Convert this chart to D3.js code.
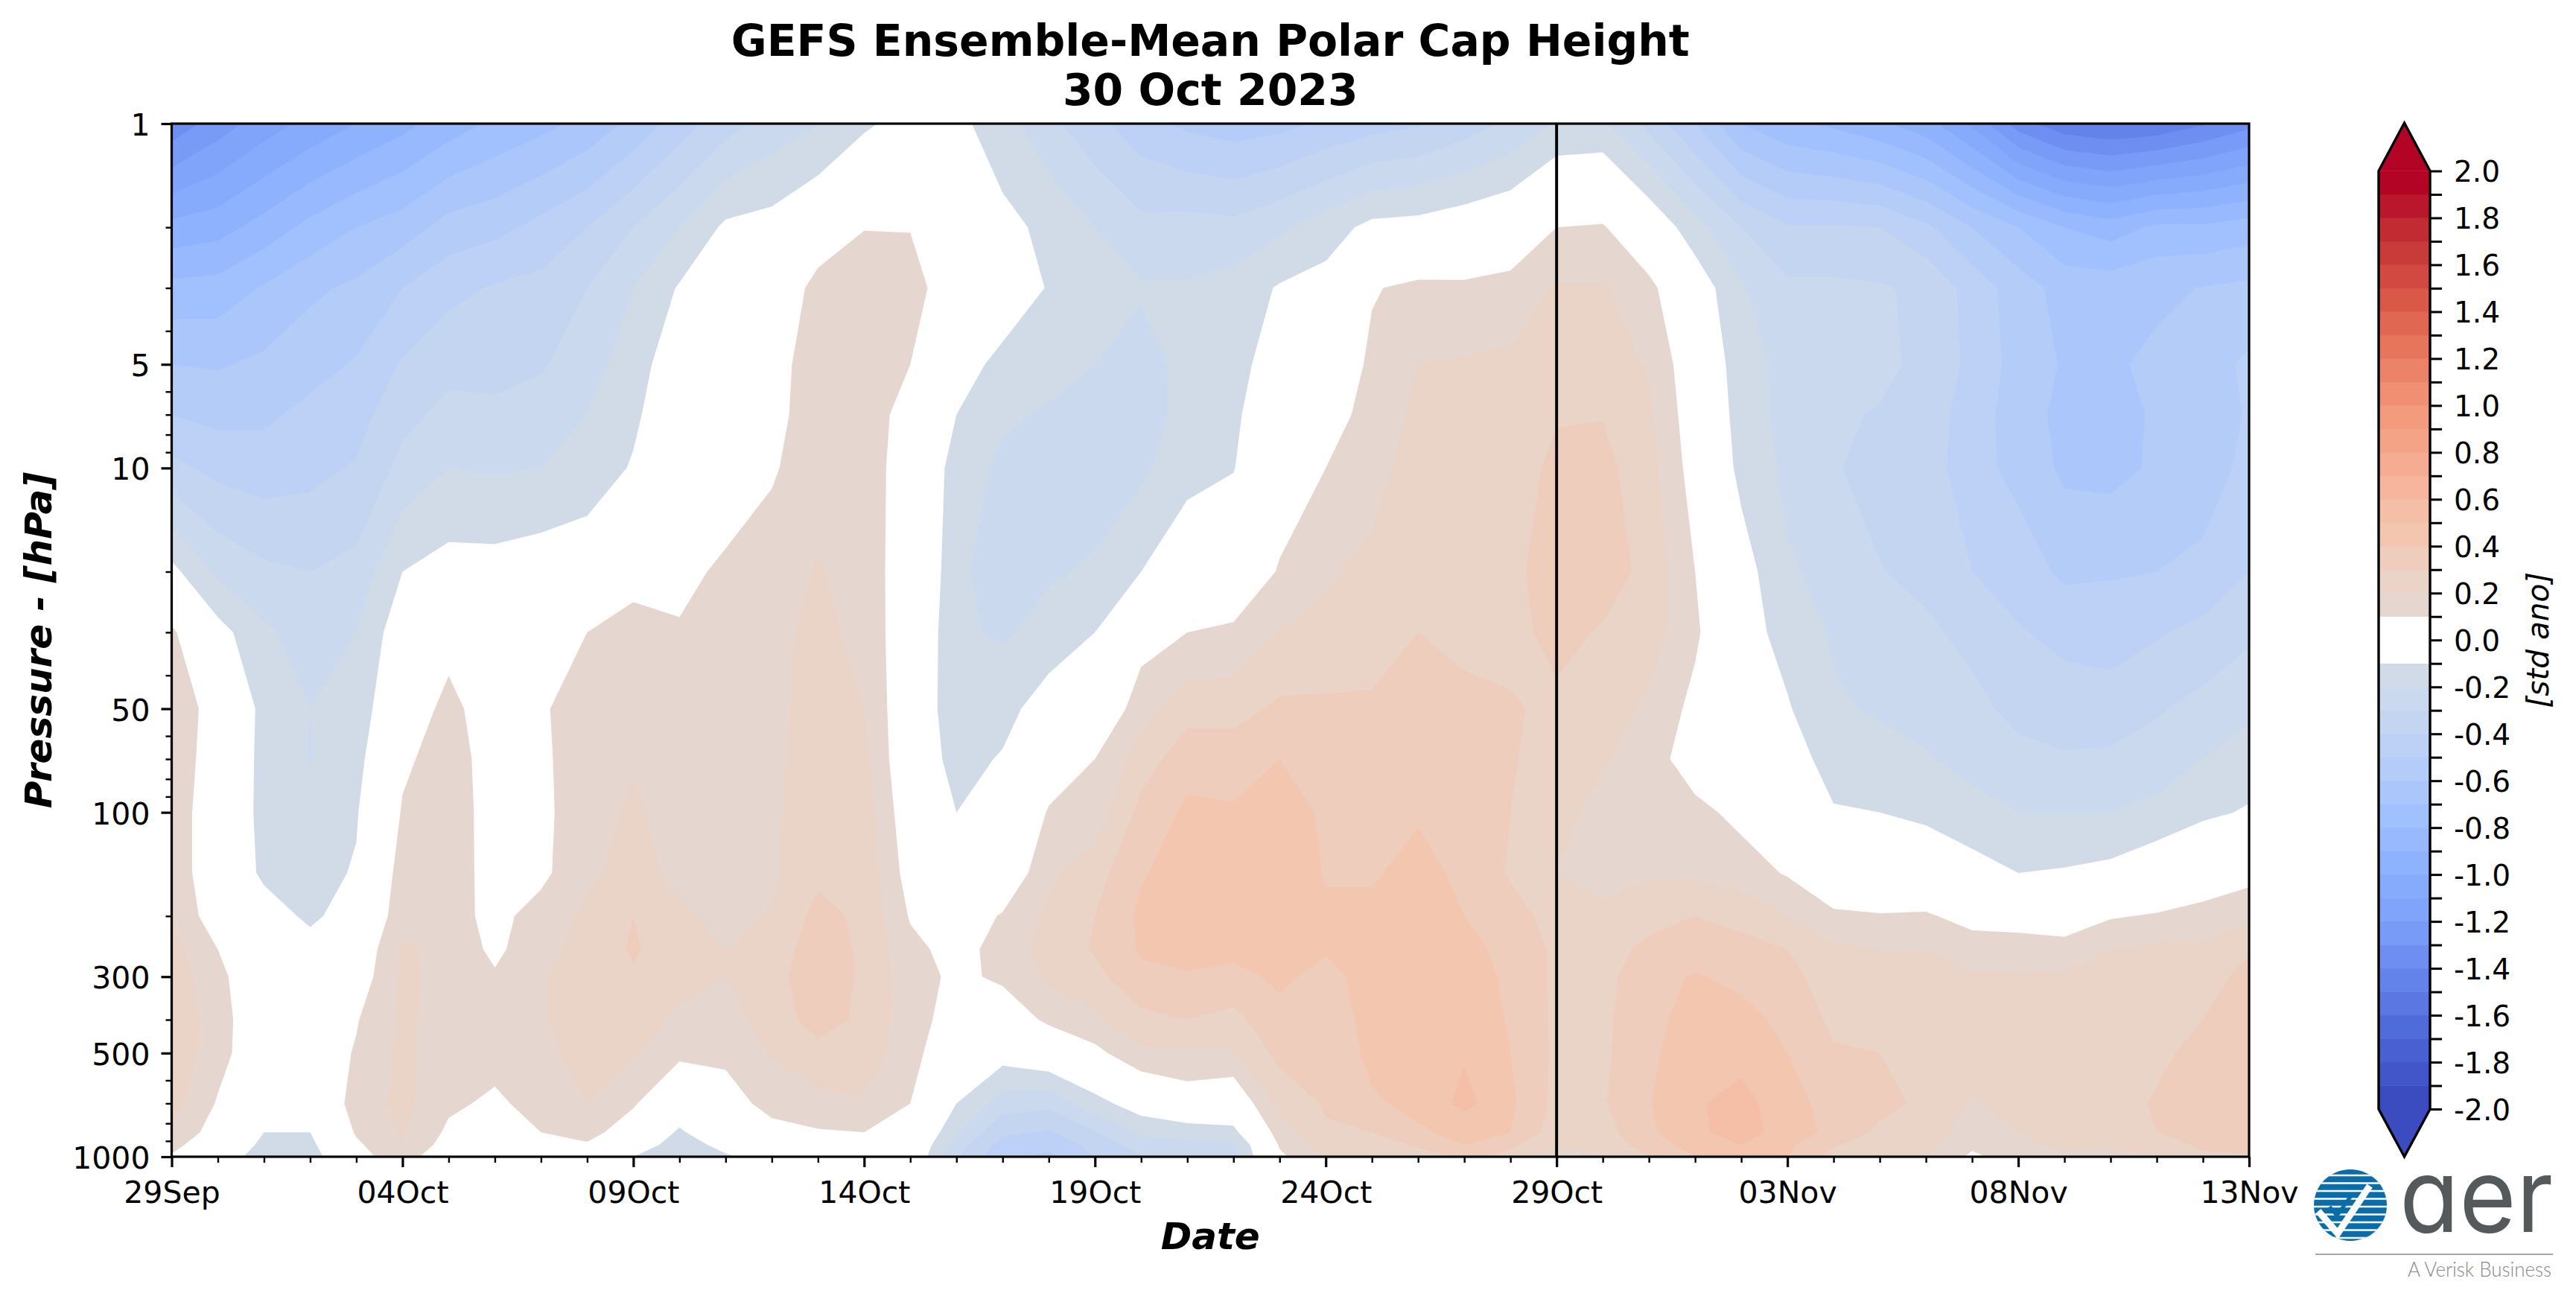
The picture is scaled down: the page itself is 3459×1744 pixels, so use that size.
<!DOCTYPE html>
<html>
<head>
<meta charset="utf-8">
<title>GEFS Ensemble-Mean Polar Cap Height</title>
<script src="https://cdn.jsdelivr.net/npm/d3@7"></script>
<style>
html,body{margin:0;padding:0;background:#fff;}
svg{display:block;font-family:"DejaVu Sans",sans-serif;}
</style>
</head>
<body>
<svg id="chart" width="3459" height="1744" viewBox="0 0 3459 1744"></svg>
<script>
// ---------- data ----------
const titleLines = ["GEFS Ensemble-Mean Polar Cap Height", "30 Oct 2023"];
const pressureLevels = [1,2,3,5,7,10,20,30,50,70,100,150,200,250,300,400,500,700,850,925,1000];
const pressureTickValues = [1,5,10,50,100,300,500,1000];
const pressureMinorTicks = [2,3,4,6,7,8,9,20,30,40,60,70,80,90,200,400,600,700,800,900];
const dateTickLabels = ["29Sep","04Oct","09Oct","14Oct","19Oct","24Oct","29Oct","03Nov","08Nov","13Nov"];
const forecastStartDay = 30;
// one list per day (29 Sep .. 13 Nov), each from 1 hPa down to 1000 hPa, std anomaly
const anomalyByDay = [
[-1.37,-.97,-.77,-.60,-.50,-.37,-.07,.12,.20,.20,.18,.18,.20,.24,.26,.28,.28,.24,.18,.13,.09],
[-1.25,-.94,-.76,-.61,-.53,-.43,-.22,-.06,.03,.01,0,0,.03,.10,.13,.15,.14,.09,.05,.02,0],
[-1.15,-.86,-.69,-.58,-.52,-.45,-.28,-.18,-.13,-.13,-.13,-.12,-.05,-.02,0,0,.01,-.03,-.10,-.13,-.18],
[-1.07,-.77,-.62,-.54,-.47,-.43,-.30,-.25,-.20,-.205,-.18,-.14,-.12,-.06,-.03,0,.02,0,-.10,-.13,-.17],
[-1.00,-.70,-.58,-.49,-.44,-.39,-.27,-.20,-.17,-.14,-.11,-.09,-.05,0,.03,.092,.11,.135,.113,.08,.08],
[-.93,-.65,-.50,-.39,-.33,-.27,-.10,-.03,.03,.08,.11,.15,.17,.22,.22,.22,.22,.23,.21,.20,.13],
[-.85,-.56,-.43,-.33,-.27,-.20,-.06,.06,.13,.15,.16,.15,.14,.16,.17,.16,.16,.12,.08,.05,.05],
[-.78,-.53,-.39,-.33,-.28,-.21,-.06,-.03,.04,.05,.05,.06,.07,.08,.11,.15,.14,.08,.04,.01,0],
[-.73,-.47,-.37,-.31,-.26,-.20,-.04,.01,.09,.086,.079,.075,.14,.16,.19,.19,.18,.14,.10,.06,.03],
[-.67,-.40,-.30,-.25,-.20,-.16,-.03,.10,.14,.14,.15,.18,.22,.25,.26,.25,.23,.20,.13,.09,.07],
[-.57,-.30,-.20,-.14,-.12,-.09,.06,.14,.17,.19,.22,.24,.30,.31,.29,.27,.21,.11,.05,0,-.10],
[-.45,-.20,-.09,-.04,-.01,.02,.07,.11,.13,.14,.15,.17,.22,.25,.26,.17,.12,0,-.12,-.18,-.21],
[-.34,-.08,-.05,-.02,0,.03,.12,.16,.15,.17,.17,.17,.17,.20,.20,.16,.12,.06,.02,-.05,-.12],
[-.26,-.06,-.03,.065,.07,.09,.14,.16,.16,.17,.18,.18,.21,.24,.26,.25,.21,.13,.07,.03,-.03],
[-.20,0,.15,.145,.15,.15,.21,.24,.26,.27,.27,.28,.33,.36,.37,.34,.27,.17,.09,.06,.03],
[-.12,.097,.15,.15,.15,.15,.15,.16,.20,.23,.25,.27,.28,.28,.28,.28,.27,.19,.10,.05,.02],
[-.05,.097,.13,.10,.06,.045,.04,.03,0,-.01,.02,.05,.09,.13,.15,.14,.12,.10,.06,.03,.01],
[-.07,.05,.05,-.06,-.10,-.15,-.17,-.185,-.17,-.14,-.10,-.05,.03,.06,.075,.057,.05,-.10,-.19,-.25,-.29],
[-.16,-.07,-.04,-.125,-.185,-.22,-.27,-.212,-.14,-.09,-.05,0,.11,.14,.12,.03,-.05,-.25,-.38,-.44,-.48],
[-.27,-.125,-.106,-.17,-.21,-.23,-.21,-.17,-.04,.03,.11,.18,.22,.24,.22,.12,0,-.27,-.41,-.47,-.52],
[-.37,-.20,-.16,-.20,-.23,-.24,-.19,-.10,-.02,.10,.14,.26,.30,.31,.27,.18,.07,-.14,-.31,-.37,-.39],
[-.46,-.27,-.19,-.24,-.25,-.22,-.10,.05,.16,.25,.33,.39,.42,.41,.38,.27,.18,-.04,-.18,-.25,-.31],
[-.52,-.26,-.19,-.17,-.16,-.14,-.01,.10,.26,.36,.42,.45,.47,.44,.39,.30,.19,.03,-.16,-.23,-.27],
[-.55,-.27,-.16,-.14,-.12,-.105,0,.12,.26,.36,.41,.44,.46,.43,.37,.27,.19,0,-.13,-.22,-.24],
[-.53,-.22,-.09,-.04,-.01,.03,.11,.20,.32,.40,.43,.46,.47,.46,.42,.37,.33,.23,.15,.11,.08],
[-.48,-.15,-.06,.01,.05,.10,.19,.22,.32,.37,.39,.395,.41,.41,.37,.35,.34,.31,.29,.25,.20],
[-.44,-.07,.092,.12,.14,.17,.22,.27,.31,.34,.37,.39,.42,.44,.44,.43,.42,.39,.30,.26,.21],
[-.41,-.06,.125,.20,.225,.24,.27,.30,.35,.38,.39,.43,.45,.46,.46,.46,.45,.42,.39,.31,.25],
[-.35,-.03,.12,.21,.22,.23,.25,.28,.32,.35,.37,.38,.40,.43,.45,.47,.49,.53,.42,.40,.33],
[-.28,0,.14,.22,.235,.24,.26,.27,.31,.31,.30,.29,.34,.37,.38,.39,.40,.42,.40,.32,.27],
[-.19,.10,.21,.26,.29,.33,.38,.33,.28,.25,.23,.20,.26,.28,.28,.28,.28,.27,.25,.21,.17],
[-.18,.11,.21,.26,.296,.33,.35,.29,.25,.21,.17,.17,.22,.25,.27,.28,.28,.29,.26,.23,.19],
[-.33,-.01,.13,.19,.22,.24,.27,.25,.18,.15,.15,.19,.26,.33,.36,.37,.38,.395,.38,.35,.30],
[-.50,-.16,-.03,.02,.03,.05,.10,.12,.07,.04,.13,.18,.30,.34,.41,.44,.46,.49,.48,.44,.40],
[-.70,-.30,-.19,-.16,-.145,-.13,-.05,-.05,-.03,0,.07,.15,.27,.33,.37,.44,.47,.53,.54,.50,.45],
[-.78,-.39,-.28,-.228,-.235,-.22,-.19,-.14,-.09,-.04,.03,.09,.20,.30,.33,.37,.40,.45,.46,.42,.40],
[-.82,-.39,-.28,-.25,-.28,-.292,-.225,-.21,-.19,-.15,-.09,0,.12,.22,.25,.28,.31,.35,.37,.31,.27],
[-.88,-.40,-.29,-.263,-.31,-.335,-.295,-.25,-.21,-.17,-.10,-.04,.11,.20,.23,.27,.30,.33,.28,.24,.20],
[-.96,-.48,-.32,-.339,-.345,-.347,-.33,-.28,-.24,-.19,-.13,.01,.11,.20,.23,.26,.27,.28,.26,.23,.20],
[-1.12,-.60,-.44,-.42,-.451,-.465,-.40,-.33,-.27,-.24,-.16,-.06,.07,.14,.21,.25,.26,.19,.15,.12,.08],
[-1.35,-.70,-.55,-.543,-.549,-.529,-.45,-.39,-.33,-.27,-.20,-.10,.06,.14,.22,.26,.26,.25,.20,.18,.15],
[-1.47,-.80,-.64,-.61,-.63,-.62,-.52,-.43,-.35,-.29,-.20,-.09,.05,.13,.22,.25,.26,.26,.23,.22,.17],
[-1.50,-.85,-.64,-.61,-.63,-.63,-.51,-.44,-.36,-.28,-.20,-.07,.09,.20,.22,.24,.25,.26,.23,.21,.18],
[-1.48,-.78,-.615,-.585,-.59,-.585,-.50,-.41,-.31,-.26,-.17,-.02,.11,.22,.24,.26,.28,.31,.30,.27,.20],
[-1.41,-.78,-.597,-.545,-.555,-.535,-.483,-.37,-.27,-.20,-.12,.02,.14,.22,.26,.30,.33,.36,.33,.31,.29],
[-1.33,-.75,-.576,-.48,-.49,-.48,-.40,-.32,-.22,-.15,-.09,.06,.18,.29,.33,.35,.37,.38,.37,.34,.29]
];
// contour levels and the coolwarm colour stops of the colour bar
const contourLevels = d3.range(-20, 21).map(v => v / 10);
const whiteBands = [-0.1, 0];
const coolwarmStops = ["#3b4cc0","#4b64d5","#6282ea","#7b9ff9","#8db0fe","#a3c1fe","#bad0f6","#cad9ee","#dddddc","#ead4c8","#f5c4ac","#f6ae94","#f4987a","#e97a5f","#d85646","#c53334","#b40426"];

// ---------- layout ----------
const plot = {left: 230.5, right: 3020, top: 166, bottom: 1553};
const bar = {left: 3194, right: 3263, top: 229.5, bottom: 1489, tipTop: 165, tipBottom: 1553};
const FS = 41, BAR_FS = 39;

const svg = d3.select("#chart");
const numDays = anomalyByDay.length, numLevels = pressureLevels.length;

const xScale = d3.scaleLinear().domain([0, numDays - 1]).range([plot.left, plot.right]);
const yScale = d3.scaleLog().domain([1, 1000]).range([plot.top, plot.bottom]);
const levelIndexToY = d3.scaleLinear().domain(pressureLevels.map((_, i) => i)).range(pressureLevels.map(p => yScale(p)));
const colormap = d3.scaleLinear().domain(coolwarmStops.map((_, i) => i / (coolwarmStops.length - 1))).range(coolwarmStops).interpolate(d3.interpolateRgb);
const bandColor = lo => {
  const i = Math.round((lo + 2) * 10);
  if (whiteBands.includes(Math.round(lo * 10) / 10)) return "#ffffff";
  return colormap(i / 39);
};

// ---------- filled contours ----------
// the grid gets one repeated ring so the polygons run past the frame and are cut by the clip
const gw = numDays + 2, gh = numLevels + 2;
const grid = new Array(gw * gh);
for (let r = 0; r < gh; r++) for (let c = 0; c < gw; c++) {
  const d = Math.max(0, Math.min(numDays - 1, c - 1));
  const l = Math.max(0, Math.min(numLevels - 1, r - 1));
  grid[r * gw + c] = anomalyByDay[d][l];
}
const bandLows = contourLevels.slice(0, -1);
const contours = d3.contours().size([gw, gh]).thresholds(bandLows)(grid);
const gridPath = d3.geoPath(d3.geoTransform({
  point(x, y) { this.stream.point(xScale(x - 1.5), levelIndexToY(y - 1.5)); }
}));

svg.append("defs").append("clipPath").attr("id", "plotClip").append("rect")
  .attr("x", plot.left).attr("y", plot.top)
  .attr("width", plot.right - plot.left).attr("height", plot.bottom - plot.top);

const field = svg.append("g").attr("clip-path", "url(#plotClip)");
field.selectAll("path").data(contours.filter(c => c.coordinates.length)).join("path")
  .attr("d", gridPath)
  .attr("fill", d => bandColor(d.value))
  .attr("stroke", "none");

// forecast start line
svg.append("line")
  .attr("x1", xScale(forecastStartDay)).attr("x2", xScale(forecastStartDay))
  .attr("y1", plot.top).attr("y2", plot.bottom)
  .attr("stroke", "#000").attr("stroke-width", 3.9);

// frame
svg.append("rect").attr("x", plot.left).attr("y", plot.top)
  .attr("width", plot.right - plot.left).attr("height", plot.bottom - plot.top)
  .attr("fill", "none").attr("stroke", "#000").attr("stroke-width", 3.2);

// ---------- axes ----------
function styleAxis(g, w, fs) {
  g.select(".domain").remove();
  g.selectAll("line").attr("stroke", "#000").attr("stroke-width", w);
  g.selectAll("text").attr("fill", "#000").attr("font-size", fs || FS).attr("font-family", '"DejaVu Sans",sans-serif');
}
const xMajor = d3.range(0, numDays, 5);
const xMinor = d3.range(0, numDays).filter(d => d % 5);
svg.append("g").attr("transform", `translate(0,${plot.bottom})`)
  .call(d3.axisBottom(xScale).tickValues(xMinor).tickSize(8).tickFormat(""))
  .call(styleAxis, 2.4);
svg.append("g").attr("transform", `translate(0,${plot.bottom})`)
  .call(d3.axisBottom(xScale).tickValues(xMajor).tickSize(14).tickPadding(19)
    .tickFormat((d, i) => dateTickLabels[i]))
  .call(styleAxis, 3.2);

svg.append("g").attr("transform", `translate(${plot.left},0)`)
  .call(d3.axisLeft(yScale).tickValues(pressureMinorTicks).tickSize(8).tickFormat(""))
  .call(styleAxis, 2.4);
svg.append("g").attr("transform", `translate(${plot.left},0)`)
  .call(d3.axisLeft(yScale).tickValues(pressureTickValues).tickSize(14).tickPadding(15).tickFormat(d3.format("d")))
  .call(styleAxis, 3.2)
  .call(g => g.selectAll("text").attr("dy", "0.38em"));

// ---------- titles ----------
svg.selectAll("text.title").data(titleLines).join("text").attr("class", "title")
  .attr("x", (plot.left + plot.right) / 2).attr("y", (d, i) => 75 + i * 66)
  .attr("text-anchor", "middle").attr("font-weight", "bold").attr("font-size", 58.4).text(d => d);

svg.append("text").attr("x", (plot.left + plot.right) / 2).attr("y", 1677)
  .attr("text-anchor", "middle").attr("font-weight", "bold").attr("font-style", "italic")
  .attr("font-size", 50).text("Date");

svg.append("text").attr("transform", `translate(69,${(plot.top + plot.bottom) / 2}) rotate(-90)`)
  .attr("text-anchor", "middle").attr("font-weight", "bold").attr("font-style", "italic")
  .attr("font-size", 50).text("Pressure - [hPa]");

// ---------- colour bar ----------
const barScale = d3.scaleLinear().domain([-2, 2]).range([bar.bottom, bar.top]);
const barG = svg.append("g");
barG.selectAll("rect").data(bandLows).join("rect")
  .attr("x", bar.left).attr("width", bar.right - bar.left)
  .attr("y", d => barScale(d + 0.1) - 0.3)
  .attr("height", d => barScale(d) - barScale(d + 0.1) + 0.6)
  .attr("fill", d => bandColor(d));
const midX = (bar.left + bar.right) / 2;
barG.append("path").attr("d", d3.line()([[bar.left, bar.top], [midX, bar.tipTop], [bar.right, bar.top]]) + "Z")
  .attr("fill", colormap(1));
barG.append("path").attr("d", d3.line()([[bar.left, bar.bottom], [midX, bar.tipBottom], [bar.right, bar.bottom]]) + "Z")
  .attr("fill", colormap(0));
barG.append("path")
  .attr("d", d3.line()([[bar.left, bar.top], [midX, bar.tipTop], [bar.right, bar.top], [bar.right, bar.bottom], [midX, bar.tipBottom], [bar.left, bar.bottom]]) + "Z")
  .attr("fill", "none").attr("stroke", "#000").attr("stroke-width", 3.4).attr("stroke-linejoin", "miter");

const barLabelled = l => Math.round(l * 10) % 2 === 0;
svg.append("g").attr("transform", `translate(${bar.right},0)`)
  .call(d3.axisRight(barScale).tickValues(contourLevels).tickSize(16).tickPadding(16)
    .tickFormat(d => barLabelled(d) ? d.toFixed(1) : ""))
  .call(styleAxis, 3, BAR_FS)
  .call(g => g.selectAll("text").attr("dy", "0.37em"));

svg.append("text").attr("transform", `translate(3422,${(bar.top + bar.bottom) / 2}) rotate(-90)`)
  .attr("text-anchor", "middle").attr("font-style", "italic").attr("font-size", 40.5).text("[std ano]");

// ---------- logo ----------
const logo = svg.append("g");
const logoBlue = "#0a6ca9";
logo.append("clipPath").attr("id", "globeClip").append("ellipse")
  .attr("cx", 3156).attr("cy", 1618).attr("rx", 49).attr("ry", 48);
const globe = logo.append("g").attr("clip-path", "url(#globeClip)");
globe.append("rect").attr("x", 3100).attr("y", 1565).attr("width", 110).attr("height", 105).attr("fill", logoBlue);
globe.selectAll("line").data(d3.range(1578, 1668, 10.5)).join("line")
  .attr("x1", 3100).attr("x2", 3210).attr("y1", d => d).attr("y2", d => d)
  .attr("stroke", "#fff").attr("stroke-width", 2.6);
logo.append("path").attr("d", "M3113,1626 L3139,1656 L3182,1592")
  .attr("fill", "none").attr("stroke", "#fff").attr("stroke-width", 9);
logo.append("path").attr("d", "M3128,1620 L3138,1632 L3158,1604")
  .attr("fill", "none").attr("stroke", logoBlue).attr("stroke-width", 5);
logo.append("text").attr("x", 3222).attr("y", 1654).attr("font-family", "Inter,Lato,sans-serif").attr("font-weight", 400)
  .style("font-feature-settings", '"cv11" 1')
  .attr("font-size", 138).attr("fill", "#54595c").attr("textLength", 206).attr("lengthAdjust", "spacingAndGlyphs").text("aer");
logo.append("line").attr("x1", 3109).attr("x2", 3428).attr("y1", 1684).attr("y2", 1684)
  .attr("stroke", "#888").attr("stroke-width", 1.5);
logo.append("text").attr("x", 3233).attr("y", 1714).attr("font-family", "Lato,sans-serif").attr("font-weight", 300)
  .attr("font-size", 27.5).attr("fill", "#85898b").attr("textLength", 193).attr("lengthAdjust", "spacingAndGlyphs").text("A Verisk Business");
</script>
</body>
</html>
